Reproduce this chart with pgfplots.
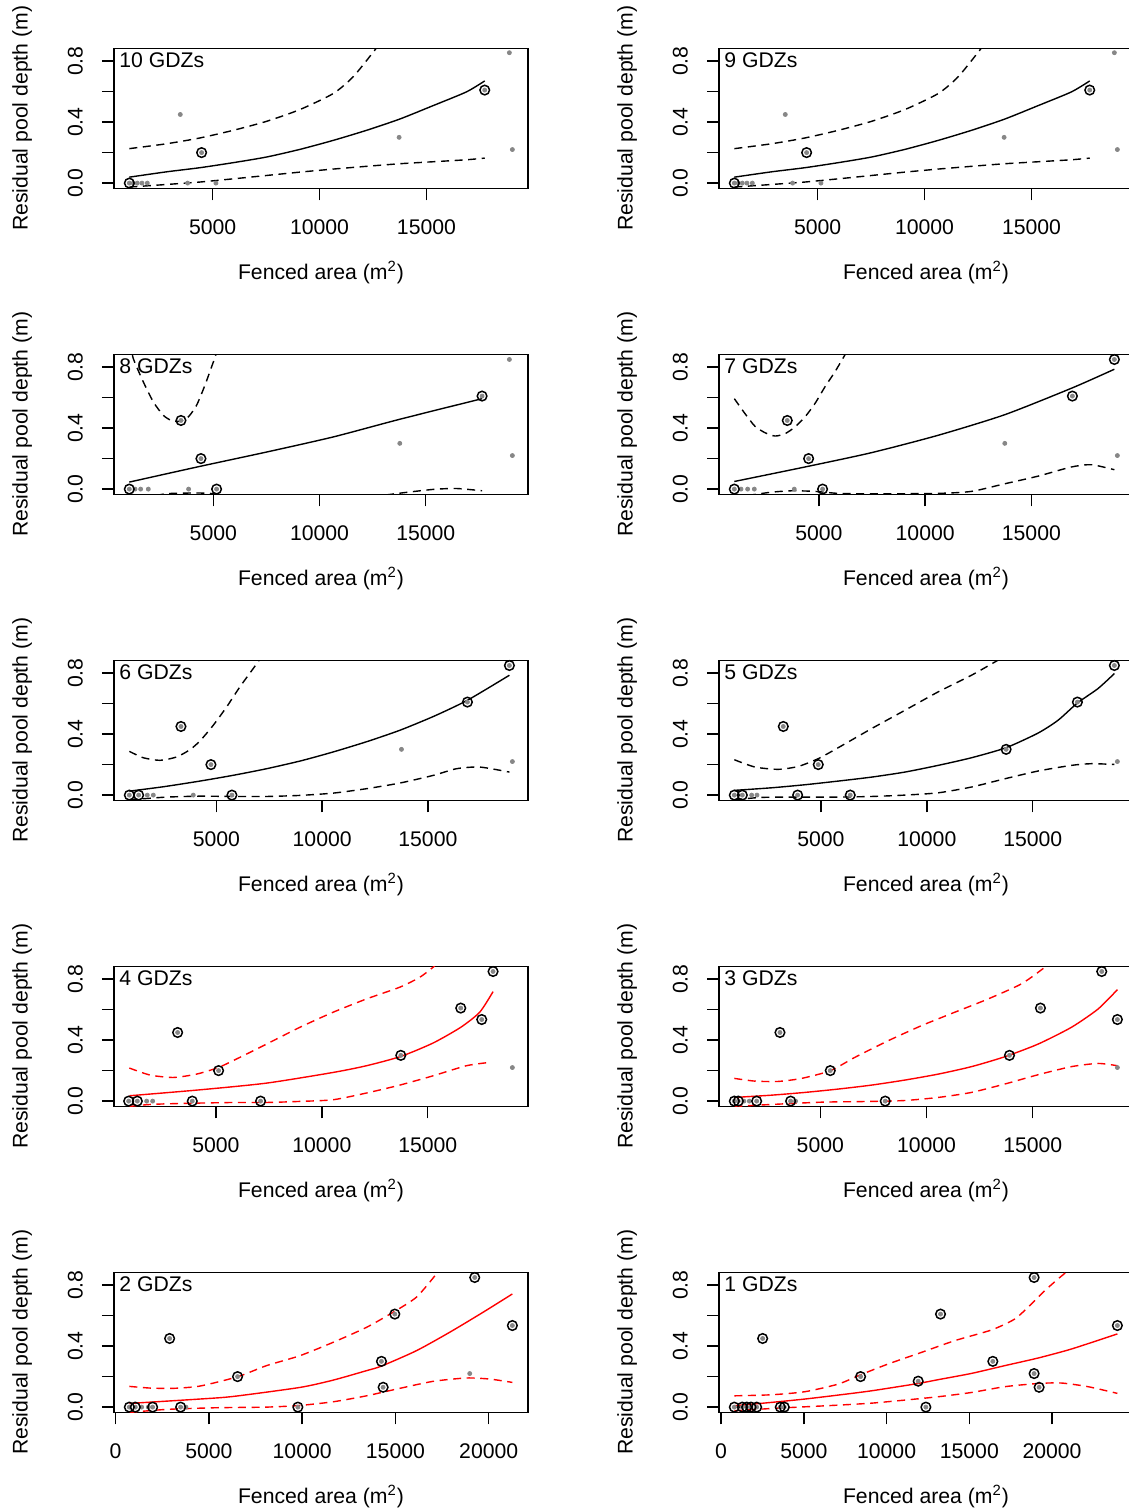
\documentclass[border=0pt]{standalone}
\usepackage{fontspec}
\setmainfont{Liberation Sans}
\usepackage{pgfplots}
\pgfplotsset{compat=1.18}
\definecolor{ptgrey}{RGB}{135,135,135}
\pgfplotsset{
  gdz/.style={
    scale only axis, width=207pt, height=70pt, anchor=south west,
    ymin=-0.034, ymax=0.884,
    ytick={0,0.2,0.4,0.6,0.8}, yticklabels={0.0,,0.4,,0.8},
    xtick={5000,10000,15000}, xticklabels={5000,10000,15000},
    scaled x ticks=false, scaled y ticks=false,
    tick pos=left, tick align=outside, major tick length=6pt,
    tick style={black, line width=0.7pt},
    axis line style={line width=0.7pt},
    tick label style={inner sep=0pt},
    yticklabel style={rotate=90, anchor=base},
    xticklabel style={anchor=north},
    xticklabel shift=9.3pt, yticklabel shift=9.7pt,
    xlabel={Fenced area (m\textsuperscript{2})},
    ylabel={Residual pool depth (m)},
    xlabel style={at={(axis description cs:0.5,-0.654)}, anchor=base, inner sep=0pt},
    ylabel style={at={(axis description cs:-0.2087,0.5)}, anchor=base, inner sep=0pt},
    clip mode=individual,
  },
  wide/.style={xtick={0,5000,10000,15000,20000}, xticklabels={0,5000,10000,15000,20000}},
  fitln/.style={line width=0.7pt, no marks, smooth, tension=0.4},
  ciln/.style={line width=0.7pt, no marks, smooth, tension=0.4, dash pattern=on 4pt off 2.8pt},
  dots/.style={only marks, mark=*, mark size=1.0pt, color=ptgrey},
  rings/.style={only marks, mark=o, mark size=2.4pt, color=black, mark options={line width=0.75pt}},
}
\newcommand{\ttl}[1]{\node[anchor=north west, inner sep=0pt, xshift=2.5pt, yshift=-1.8pt] at (rel axis cs:0,1) {#1};}
\begin{document}
\fontsize{10.6}{12.7}\selectfont
\begin{tikzpicture}
\useasboundingbox (0,0) rectangle (564.5pt,755pt);
% ---------- Row 1 left: 10 GDZs
\begin{axis}[gdz, at={(57pt,660.85pt)}, xmin=388, xmax=19748]
\addplot[fitln, black] coordinates {(1105,0.039)(2849,0.074)(4407,0.101)(5964,0.134)(7522,0.171)(9079,0.221)(10637,0.280)(12195,0.346)(13752,0.420)(15310,0.508)(16867,0.598)(17724,0.670)};
\addplot[ciln, black] coordinates {(1105,0.226)(2849,0.258)(4407,0.296)(5964,0.346)(7522,0.405)(9079,0.482)(10637,0.587)(11572,0.697)(12584,0.872)(12818,0.915)};
\addplot[ciln, black] coordinates {(1105,-0.026)(2849,-0.009)(4407,0.007)(5964,0.028)(7522,0.050)(9079,0.072)(10637,0.092)(12195,0.110)(13752,0.127)(15310,0.140)(16867,0.153)(17724,0.164)};
\addplot[dots] coordinates {(1105,0)(1291,0)(1478,0)(1696,0)(1946,0)(3488,0.45)(3830,0)(4485,0.20)(5154,0)(13721,0.30)(17724,0.61)(18877,0.855)(19017,0.22)};
\addplot[rings] coordinates {(1105,0)(4485,0.20)(17724,0.61)};
\ttl{10 GDZs}
\end{axis}
% ---------- Row 1 right: 9 GDZs
\begin{axis}[gdz, at={(359.5pt,660.85pt)}, xmin=388, xmax=19748]
\addplot[fitln, black] coordinates {(1105,0.039)(2849,0.074)(4407,0.101)(5964,0.134)(7522,0.171)(9079,0.221)(10637,0.280)(12195,0.346)(13752,0.420)(15310,0.508)(16867,0.598)(17724,0.670)};
\addplot[ciln, black] coordinates {(1105,0.226)(2849,0.258)(4407,0.296)(5964,0.346)(7522,0.405)(9079,0.482)(10637,0.587)(11572,0.697)(12584,0.872)(12818,0.915)};
\addplot[ciln, black] coordinates {(1105,-0.026)(2849,-0.009)(4407,0.007)(5964,0.028)(7522,0.050)(9079,0.072)(10637,0.092)(12195,0.110)(13752,0.127)(15310,0.140)(16867,0.153)(17724,0.164)};
\addplot[dots] coordinates {(1105,0)(1291,0)(1478,0)(1696,0)(1946,0)(3488,0.45)(3830,0)(4485,0.20)(5154,0)(13721,0.30)(17724,0.61)(18877,0.855)(19017,0.22)};
\addplot[rings] coordinates {(1105,0)(4485,0.20)(17724,0.61)};
\ttl{9 GDZs}
\end{axis}
% ---------- Row 2 left: 8 GDZs
\begin{axis}[gdz, at={(57pt,507.85pt)}, xmin=325, xmax=19812]
\addplot[fitln, black] coordinates {(1046,0.046)(4370,0.149)(7506,0.243)(10642,0.342)(13778,0.458)(17650,0.593)};
\addplot[ciln, black] coordinates {(1077,0.966)(1234,0.856)(1705,0.703)(2175,0.572)(2645,0.484)(3037,0.449)(3429,0.445)(3821,0.473)(4213,0.550)(4605,0.681)(4919,0.802)(5123,0.883)(5200,0.95)};
\addplot[ciln, black] coordinates {(1046,-0.085)(2645,-0.033)(3743,-0.026)(4840,-0.028)(5938,-0.053)(9074,-0.085)(12210,-0.053)(13934,-0.024)(15345,-0.002)(16443,0.004)(17650,-0.011)};
\addplot[dots] coordinates {(1046,0)(1313,0)(1579,0)(1940,0)(3476,0.45)(3837,0)(4417,0.20)(5154,0)(13778,0.30)(17650,0.61)(18936,0.85)(19077,0.22)};
\addplot[rings] coordinates {(1046,0)(3476,0.45)(4417,0.20)(5154,0)(17650,0.61)};
\ttl{8 GDZs}
\end{axis}
% ---------- Row 2 right: 7 GDZs
\begin{axis}[gdz, at={(359.5pt,507.85pt)}, xmin=296, xmax=19784]
\addplot[fitln, black] coordinates {(1017,0.050)(4341,0.145)(7477,0.239)(10613,0.353)(13749,0.488)(16931,0.664)(18907,0.786)};
\addplot[ciln, black] coordinates {(1017,0.593)(1519,0.495)(1989,0.412)(2460,0.370)(2930,0.348)(3400,0.363)(3871,0.407)(4341,0.473)(4812,0.561)(5282,0.670)(5752,0.769)(6144,0.861)(6301,0.899)};
\addplot[ciln, black] coordinates {(1017,-0.053)(1989,-0.035)(2773,-0.020)(3714,-0.011)(4812,-0.015)(5909,-0.028)(7477,-0.031)(10613,-0.028)(12181,-0.015)(13749,0.035)(15316,0.085)(16884,0.145)(17825,0.160)(18907,0.127)};
\addplot[dots] coordinates {(1017,0)(1331,0)(1644,0)(1958,0)(3510,0.45)(3839,0)(4514,0.20)(5172,0)(13749,0.30)(16931,0.61)(18907,0.85)(19048,0.22)};
\addplot[rings] coordinates {(1017,0)(3510,0.45)(4514,0.20)(5172,0)(16931,0.61)(18907,0.85)};
\ttl{7 GDZs}
\end{axis}
% ---------- Row 3 left: 6 GDZs
\begin{axis}[gdz, at={(57pt,354.85pt)}, xmin=156, xmax=19735]
\addplot[fitln, black] coordinates {(881,0.026)(2500,0.055)(4220,0.092)(5800,0.130)(7371,0.173)(9000,0.225)(10521,0.283)(12100,0.350)(13672,0.425)(15300,0.518)(16870,0.622)(18855,0.786)};
\addplot[ciln, black] coordinates {(881,0.287)(1542,0.245)(2330,0.228)(3118,0.250)(3748,0.298)(4220,0.355)(4850,0.458)(5481,0.578)(6111,0.710)(6741,0.830)(7135,0.907)};
\addplot[ciln, black] coordinates {(881,-0.031)(1542,-0.024)(2645,-0.013)(4220,-0.007)(5796,-0.009)(7371,-0.009)(8946,-0.002)(10521,0.013)(12097,0.042)(13672,0.079)(15247,0.129)(16350,0.173)(17453,0.184)(18855,0.151)};
\addplot[dots] coordinates {(881,0)(1322,0)(1731,0)(2015,0)(3322,0.45)(3905,0)(4740,0.20)(5733,0)(13751,0.30)(16870,0.61)(18855,0.85)(18997,0.22)};
\addplot[rings] coordinates {(881,0)(1322,0)(3322,0.45)(4740,0.20)(5733,0)(16870,0.61)(18855,0.85)};
\ttl{6 GDZs}
\end{axis}
% ---------- Row 3 right: 5 GDZs
\begin{axis}[gdz, at={(359.5pt,354.85pt)}, xmin=189, xmax=19731]
\addplot[fitln, black] coordinates {(912,0.031)(2673,0.048)(4245,0.068)(5818,0.092)(7390,0.118)(8962,0.151)(10535,0.195)(12107,0.245)(13742,0.311)(15252,0.407)(16195,0.491)(17107,0.604)(18082,0.699)(18852,0.797)};
\addplot[ciln, black] coordinates {(912,0.232)(1887,0.184)(2988,0.169)(3931,0.188)(4874,0.239)(5818,0.311)(7390,0.436)(8962,0.556)(10535,0.677)(12107,0.786)(13365,0.885)(13679,0.907)};
\addplot[ciln, black] coordinates {(912,-0.031)(2201,-0.015)(4245,-0.013)(5818,-0.013)(7390,-0.009)(8962,0.000)(10535,0.015)(12107,0.053)(13679,0.107)(15252,0.158)(16824,0.195)(17767,0.206)(18852,0.201)};
\addplot[dots] coordinates {(912,0)(1290,0)(1730,0)(1981,0)(3224,0.45)(3900,0)(4874,0.20)(6384,0)(13742,0.30)(17107,0.61)(18852,0.85)(18994,0.22)};
\addplot[rings] coordinates {(912,0)(1290,0)(3224,0.45)(3900,0)(4874,0.20)(6384,0)(13742,0.30)(17107,0.61)(18852,0.85)};
\ttl{5 GDZs}
\end{axis}
% ---------- Row 4 left: 4 GDZs
\begin{axis}[gdz, at={(57pt,201.85pt)}, xmin=189, xmax=19731]
\addplot[fitln, red] coordinates {(912,0.035)(4245,0.074)(7390,0.118)(10535,0.188)(12107,0.232)(13727,0.293)(15252,0.381)(16556,0.484)(17453,0.583)(18082,0.718)};
\addplot[ciln, red] coordinates {(912,0.217)(1887,0.171)(2988,0.155)(4088,0.177)(5126,0.221)(6132,0.287)(7390,0.374)(8962,0.484)(10535,0.583)(12107,0.670)(13679,0.747)(14623,0.812)(15252,0.878)(15409,0.900)};
\addplot[ciln, red] coordinates {(912,-0.035)(1887,-0.022)(3459,-0.015)(5818,-0.009)(7390,-0.009)(8962,-0.002)(10535,0.009)(12107,0.053)(13679,0.105)(15252,0.166)(16824,0.232)(17924,0.254)};
\addplot[dots] coordinates {(881,0)(1290,0)(1730,0)(2013,0)(3192,0.45)(3884,0)(5126,0.20)(7107,0)(13727,0.30)(16556,0.61)(17547,0.535)(18082,0.85)(18994,0.22)};
\addplot[rings] coordinates {(881,0)(1290,0)(3192,0.45)(3884,0)(5126,0.20)(7107,0)(13727,0.30)(16556,0.61)(17547,0.535)(18082,0.85)};
\ttl{4 GDZs}
\end{axis}
% ---------- Row 4 right: 3 GDZs
\begin{axis}[gdz, at={(359.5pt,201.85pt)}, xmin=231, xmax=19718]
\addplot[fitln, red] coordinates {(952,0.024)(2708,0.039)(4276,0.057)(5844,0.079)(7412,0.105)(8980,0.138)(10548,0.177)(12115,0.226)(13683,0.291)(15251,0.374)(16819,0.484)(18074,0.604)(18983,0.731)};
\addplot[ciln, red] coordinates {(952,0.149)(1924,0.131)(3022,0.129)(4119,0.149)(5468,0.199)(6628,0.287)(8196,0.396)(9764,0.495)(11332,0.583)(12900,0.670)(14467,0.769)(15565,0.878)(15800,0.92)};
\addplot[ciln, red] coordinates {(952,-0.035)(2708,-0.022)(5060,-0.007)(7412,-0.002)(8980,0.004)(10548,0.024)(12115,0.057)(13683,0.112)(15251,0.173)(16819,0.226)(18074,0.247)(18983,0.232)};
\addplot[dots] coordinates {(952,0)(1140,0)(1400,0)(1658,0)(2003,0)(3100,0.45)(3602,0)(3837,0)(5468,0.20)(8055,0)(13903,0.30)(15361,0.61)(18246,0.85)(18983,0.535)(18983,0.22)};
\addplot[rings] coordinates {(952,0)(1140,0)(2003,0)(3100,0.45)(3602,0)(5468,0.20)(8055,0)(13903,0.30)(15361,0.61)(18246,0.85)(18983,0.535)};
\ttl{3 GDZs}
\end{axis}
% ---------- Row 5 left: 2 GDZs
\begin{axis}[gdz, wide, at={(57pt,48.85pt)}, xmin=-88, xmax=22107]
\addplot[fitln, red] coordinates {(733,0.024)(4519,0.053)(6305,0.070)(9876,0.129)(11662,0.177)(13448,0.239)(14251,0.269)(16126,0.370)(17912,0.491)(19698,0.622)(21269,0.742)};
\addplot[ciln, red] coordinates {(733,0.136)(1840,0.125)(3090,0.123)(4519,0.138)(6537,0.199)(8090,0.272)(9876,0.337)(11662,0.425)(13448,0.523)(14876,0.622)(16126,0.721)(17198,0.874)(17400,0.92)};
\addplot[ciln, red] coordinates {(733,-0.035)(2733,-0.015)(5412,-0.004)(8090,0)(9876,0.011)(11662,0.035)(13448,0.074)(15233,0.123)(17019,0.169)(18805,0.191)(20055,0.184)(21269,0.162)};
\addplot[dots] coordinates {(733,0)(1055,0)(1394,0)(1751,0)(1983,0)(2894,0.45)(3483,0)(3769,0)(6537,0.20)(9769,0)(14251,0.30)(14341,0.13)(14966,0.61)(18983,0.22)(19251,0.85)(21269,0.535)};
\addplot[rings] coordinates {(733,0)(1055,0)(1983,0)(2894,0.45)(3483,0)(6537,0.20)(9769,0)(14251,0.30)(14341,0.13)(14966,0.61)(19251,0.85)(21269,0.535)};
\ttl{2 GDZs}
\end{axis}
% ---------- Row 5 right: 1 GDZs
\begin{axis}[gdz, wide, at={(359.5pt,48.85pt)}, xmin=-127, xmax=24891]
\addplot[fitln, red] coordinates {(799,0.009)(3053,0.031)(5066,0.053)(7079,0.079)(9092,0.107)(11910,0.155)(13118,0.180)(15131,0.221)(17144,0.272)(19157,0.322)(21170,0.381)(23947,0.480)};
\addplot[ciln, red] coordinates {(799,0.074)(3053,0.081)(5066,0.101)(7079,0.151)(8428,0.212)(10098,0.283)(12112,0.359)(14125,0.436)(16339,0.506)(17748,0.578)(18754,0.677)(19560,0.764)(20365,0.841)(20969,0.896)(21200,0.93)};
\addplot[ciln, red] coordinates {(799,-0.024)(3053,-0.009)(5066,0.002)(7079,0.013)(9092,0.026)(11105,0.046)(13118,0.068)(15131,0.096)(17144,0.134)(19157,0.155)(20566,0.158)(22176,0.134)(23947,0.090)};
\addplot[dots] coordinates {(799,0)(1282,0)(1544,0)(1805,0)(2148,0)(2510,0.45)(3577,0)(3818,0)(8428,0.20)(11910,0.17)(12373,0)(13259,0.61)(16419,0.30)(18915,0.85)(18915,0.22)(19217,0.13)(23947,0.535)};
\addplot[rings] coordinates {(799,0)(1282,0)(1544,0)(1805,0)(2148,0)(2510,0.45)(3577,0)(3818,0)(8428,0.20)(11910,0.17)(12373,0)(13259,0.61)(16419,0.30)(18915,0.85)(18915,0.22)(19217,0.13)(23947,0.535)};
\ttl{1 GDZs}
\end{axis}
\end{tikzpicture}
\end{document}
